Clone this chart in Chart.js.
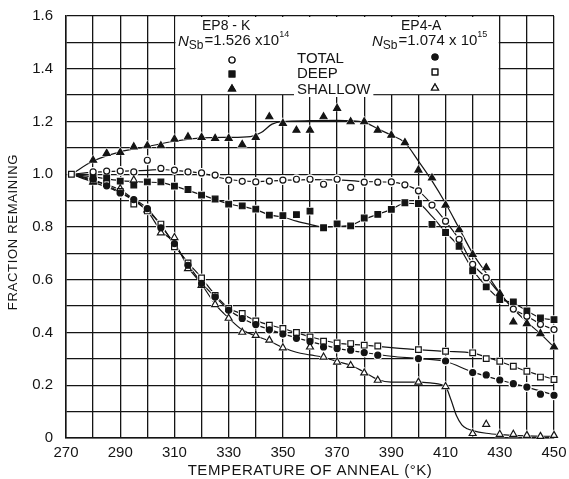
<!DOCTYPE html>
<html>
<head>
<meta charset="utf-8">
<title>Fraction remaining vs temperature of anneal</title>
<script src="https://cdn.jsdelivr.net/npm/chart.js@4.4.1/dist/chart.umd.min.js"></script>
<style>
  html, body { margin: 0; padding: 0; background: #fff; }
  #wrap { width: 569px; height: 479px; }
</style>
</head>
<body>
<div id="wrap"><canvas id="anneal-chart" width="569" height="479"></canvas></div>
<script>
// -------------------------------- Data -------------------------------------- //

const xTickLabels = [270, 290, 310, 330, 350, 370, 390, 410, 430, 450];
const yTickLabels = ['0', '0.2', '0.4', '0.6', '0.8', '1.0', '1.2', '1.4', '1.6'];

// EP8-K measured points (K, fraction remaining)
const ep8TotalT = [280, 285, 290, 295, 300, 305, 310, 315, 320, 325, 330, 335, 340, 345, 350, 355, 360, 365, 370, 375, 380, 385, 390, 395, 400, 405, 410, 415, 420, 425, 435, 440, 445, 450];
const ep8TotalV = [1.009, 1.012, 1.012, 1.009, 1.053, 1.022, 1.016, 1.009, 1.005, 0.997, 0.978, 0.973, 0.971, 0.974, 0.978, 0.981, 0.981, 0.962, 0.981, 0.95, 0.97, 0.97, 0.971, 0.96, 0.937, 0.883, 0.822, 0.753, 0.658, 0.608, 0.489, 0.462, 0.431, 0.411];

const ep8DeepT = [280, 285, 290, 295, 300, 305, 310, 315, 320, 325, 330, 335, 340, 345, 350, 355, 360, 365, 370, 375, 380, 385, 390, 395, 400, 405, 410, 415, 420, 425, 430, 435, 440, 445, 450];
const ep8DeepV = [0.99, 0.986, 0.974, 0.959, 0.971, 0.971, 0.955, 0.942, 0.921, 0.906, 0.887, 0.88, 0.868, 0.845, 0.843, 0.847, 0.86, 0.797, 0.812, 0.804, 0.834, 0.848, 0.867, 0.892, 0.889, 0.81, 0.779, 0.727, 0.634, 0.573, 0.525, 0.516, 0.482, 0.455, 0.449];

const ep8ShallowT = [280, 285, 290, 295, 300, 305, 310, 315, 320, 325, 330, 335, 340, 345, 350, 355, 360, 365, 370, 375, 380, 385, 390, 395, 400, 405, 410, 415, 420, 425, 430, 435, 440, 445, 450];
const ep8ShallowV = [1.053, 1.079, 1.083, 1.104, 1.108, 1.108, 1.133, 1.142, 1.14, 1.136, 1.136, 1.113, 1.14, 1.218, 1.193, 1.167, 1.167, 1.218, 1.25, 1.199, 1.199, 1.167, 1.148, 1.12, 1.016, 0.986, 0.883, 0.79, 0.696, 0.646, 0.548, 0.44, 0.434, 0.396, 0.345];

// EP4-A measured points
const ep4TotalT = [280, 285, 290, 295, 300, 305, 310, 315, 320, 325, 330, 335, 340, 345, 350, 355, 360, 365, 370, 375, 380, 385, 400, 410, 420, 425, 430, 435, 440, 445, 450];
const ep4TotalV = [0.981, 0.956, 0.929, 0.904, 0.87, 0.797, 0.737, 0.655, 0.586, 0.535, 0.484, 0.453, 0.43, 0.41, 0.394, 0.378, 0.366, 0.345, 0.339, 0.333, 0.324, 0.314, 0.301, 0.292, 0.248, 0.239, 0.22, 0.206, 0.193, 0.166, 0.162];

const ep4DeepT = [272, 280, 285, 290, 295, 300, 305, 310, 315, 320, 325, 330, 335, 340, 345, 350, 355, 360, 365, 370, 375, 380, 385, 400, 410, 420, 425, 430, 435, 440, 445, 450];
const ep4DeepV = [1.0, 0.975, 0.965, 0.935, 0.887, 0.861, 0.811, 0.725, 0.664, 0.607, 0.541, 0.491, 0.472, 0.444, 0.428, 0.415, 0.4, 0.383, 0.367, 0.36, 0.358, 0.352, 0.349, 0.335, 0.329, 0.323, 0.301, 0.291, 0.272, 0.253, 0.231, 0.222];

const ep4ShallowT = [280, 290, 295, 300, 305, 310, 315, 320, 325, 330, 335, 340, 345, 350, 360, 365, 370, 375, 380, 385, 400, 410, 420, 425, 430, 435, 440, 445, 450];
const ep4ShallowV = [0.97, 0.945, 0.978, 0.865, 0.778, 0.76, 0.642, 0.579, 0.506, 0.454, 0.401, 0.389, 0.371, 0.342, 0.345, 0.307, 0.288, 0.275, 0.247, 0.219, 0.212, 0.195, 0.017, 0.052, 0.014, 0.014, 0.01, 0.006, 0.01];

// hand drawn curves through the points
const ep8TotalCurveT = [272, 280, 290, 300, 305, 310, 320, 330, 340, 350, 360, 370, 380, 390, 395, 400, 405, 410, 415, 420, 425, 430, 435, 440, 445, 450];
const ep8TotalCurveV = [1.0, 1.008, 1.012, 1.015, 1.018, 1.015, 1.004, 0.98, 0.972, 0.977, 0.98, 0.979, 0.972, 0.97, 0.96, 0.937, 0.885, 0.822, 0.753, 0.66, 0.607, 0.548, 0.49, 0.462, 0.432, 0.411];

const ep8DeepCurveT = [272, 280, 290, 300, 305, 310, 320, 330, 340, 345, 350, 355, 360, 365, 370, 375, 380, 385, 390, 395, 400, 405, 410, 415, 420, 425, 430, 435, 440, 445, 450];
const ep8DeepCurveV = [1.0, 0.99, 0.976, 0.97, 0.968, 0.955, 0.922, 0.888, 0.866, 0.846, 0.838, 0.822, 0.81, 0.8, 0.802, 0.806, 0.83, 0.848, 0.867, 0.89, 0.888, 0.84, 0.78, 0.725, 0.638, 0.575, 0.527, 0.512, 0.482, 0.456, 0.448];

const ep8ShallowCurveT = [272, 280, 290, 300, 310, 320, 330, 338, 342, 346, 350, 360, 370, 380, 385, 390, 395, 400, 405, 410, 415, 420, 425, 430, 435, 440, 445, 450];
const ep8ShallowCurveV = [1.0, 1.05, 1.085, 1.105, 1.125, 1.138, 1.14, 1.143, 1.158, 1.19, 1.2, 1.203, 1.204, 1.197, 1.172, 1.148, 1.12, 1.05, 0.975, 0.89, 0.795, 0.7, 0.625, 0.55, 0.49, 0.44, 0.395, 0.345];

const ep4TotalCurveT = [272, 280, 290, 300, 305, 310, 315, 320, 325, 330, 335, 340, 350, 360, 370, 380, 390, 400, 410, 420, 430, 440, 450];
const ep4TotalCurveV = [1.0, 0.98, 0.932, 0.87, 0.805, 0.737, 0.658, 0.588, 0.535, 0.486, 0.453, 0.43, 0.395, 0.366, 0.34, 0.324, 0.31, 0.301, 0.29, 0.25, 0.22, 0.193, 0.163];

const ep4DeepCurveT = [272, 280, 290, 300, 305, 310, 315, 320, 325, 330, 335, 340, 350, 360, 370, 380, 390, 400, 410, 420, 430, 440, 450];
const ep4DeepCurveV = [1.0, 0.975, 0.94, 0.862, 0.81, 0.73, 0.665, 0.607, 0.543, 0.493, 0.47, 0.445, 0.415, 0.384, 0.36, 0.352, 0.343, 0.335, 0.329, 0.322, 0.29, 0.253, 0.222];

const ep4ShallowCurveT = [272, 280, 290, 300, 305, 310, 315, 320, 325, 330, 335, 340, 345, 350, 355, 360, 365, 370, 375, 380, 385, 390, 400, 405, 410, 412, 414, 416, 418, 420, 425, 430, 440, 450];
const ep4ShallowCurveV = [1.0, 0.97, 0.93, 0.86, 0.785, 0.74, 0.648, 0.583, 0.508, 0.455, 0.41, 0.387, 0.368, 0.343, 0.325, 0.315, 0.306, 0.29, 0.276, 0.25, 0.222, 0.212, 0.212, 0.208, 0.194, 0.145, 0.085, 0.05, 0.035, 0.028, 0.018, 0.013, 0.008, 0.006];


// -------------------------------- Helpers -------------------------------------- //

const ink = '#141414';
const font = '"Liberation Sans", Arial, sans-serif';

const toPoints = (ts, vs) => ts.map((t, i) => ({ x: t, y: vs[i] }));

// smooth line, no markers
const curve = (ts, vs) => ({
    data: toPoints(ts, vs),
    borderColor: ink,
    borderWidth: 1.2,
    pointRadius: 0,
    cubicInterpolationMode: 'monotone',
    clip: false,
    order: 3
});

// white patch behind a marker so the curve looks broken there
const halo = (ts, vs, style, r) => ({
    data: toPoints(ts, vs),
    showLine: false,
    pointStyle: style,
    pointRadius: r + 2,
    pointBackgroundColor: '#fff',
    pointBorderWidth: 0,
    clip: false,
    order: 2
});

const marks = (ts, vs, style, r, filled) => ({
    data: toPoints(ts, vs),
    showLine: false,
    pointStyle: style,
    pointRadius: r,
    pointBackgroundColor: filled ? ink : '#fff',
    pointBorderColor: ink,
    pointBorderWidth: 1.2,
    clip: false,
    order: 1
});

const series = [
    [ep8TotalT, ep8TotalV, 'circle', 3, false],
    [ep8DeepT, ep8DeepV, 'rect', 4, true],
    [ep8ShallowT, ep8ShallowV, 'triangle', 4, true],
    [ep4TotalT, ep4TotalV, 'circle', 3, true],
    [ep4DeepT, ep4DeepV, 'rect', 4, false],
    [ep4ShallowT, ep4ShallowV, 'triangle', 4, false]
];

const datasets = [
    curve(ep8TotalCurveT, ep8TotalCurveV),
    curve(ep8DeepCurveT, ep8DeepCurveV),
    curve(ep8ShallowCurveT, ep8ShallowCurveV),
    curve(ep4TotalCurveT, ep4TotalCurveV),
    curve(ep4DeepCurveT, ep4DeepCurveV),
    curve(ep4ShallowCurveT, ep4ShallowCurveV)
];
series.forEach(s => datasets.push(halo(s[0], s[1], s[2], s[3])));
series.forEach(s => datasets.push(marks(s[0], s[1], s[2], s[3], s[4])));

// draws a row of text pieces (for N_Sb = ... x 10^n)
const drawRuns = (ctx, x, runs) => {
    runs.forEach(r => {
        ctx.font = r.font;
        ctx.fillText(r.text, x, r.y);
        x += ctx.measureText(r.text).width + (r.gap || 0);
    });
};

const legendMark = (ctx, style, r, filled, x, y) => {
    ctx.fillStyle = filled ? ink : '#fff';
    Chart.helpers.drawPoint(ctx, { pointStyle: style, radius: r, borderWidth: 1.2, rotation: 0 }, x, y);
    ctx.fill();
    ctx.stroke();
};


// -------------------------------- Key + titles plugin -------------------------------------- //

const keyPlugin = {
    id: 'keyPlugin',
    beforeDatasetsDraw(chart) {
        const { ctx, scales: { x, y } } = chart;
        const left = x.getPixelForValue(310) + 1;
        const right = x.getPixelForValue(430) - 1;
        const top = y.getPixelForValue(1.6) + 1;
        const bottom = y.getPixelForValue(1.3) - 1;
        ctx.save();
        ctx.fillStyle = '#fff';
        ctx.fillRect(left, top, right - left, bottom - top);
        ctx.restore();
    },
    afterDatasetsDraw(chart) {
        const ctx = chart.ctx;
        ctx.save();
        ctx.fillStyle = ink;
        ctx.strokeStyle = ink;
        ctx.textAlign = 'left';
        ctx.textBaseline = 'alphabetic';

        // sample headings
        ctx.font = '14px ' + font;
        ctx.fillText('EP8 - K', 202, 30);
        ctx.fillText('EP4-A', 401, 30);

        drawRuns(ctx, 178, [
            { text: 'N', font: 'italic 15px ' + font, y: 46 },
            { text: 'Sb', font: '12px ' + font, y: 49, gap: 1 },
            { text: '=1.526 x10', font: '15px ' + font, y: 45 },
            { text: '14', font: '9px ' + font, y: 37 }
        ]);
        drawRuns(ctx, 372, [
            { text: 'N', font: 'italic 15px ' + font, y: 46 },
            { text: 'Sb', font: '12px ' + font, y: 49, gap: 1 },
            { text: '=1.074 x 10', font: '15px ' + font, y: 45 },
            { text: '15', font: '9px ' + font, y: 37 }
        ]);

        // row labels
        ctx.font = '15px ' + font;
        ctx.fillText('TOTAL', 297, 63);
        ctx.fillText('DEEP', 297, 78);
        const w = ctx.measureText('SHALLOW').width;
        ctx.fillStyle = '#fff';
        ctx.fillRect(294, 82, w + 6, 15);
        ctx.fillStyle = ink;
        ctx.fillText('SHALLOW', 297, 94);

        // key markers
        ctx.lineWidth = 1.2;
        legendMark(ctx, 'circle', 3, false, 232, 60);
        legendMark(ctx, 'rect', 4, true, 232, 74);
        legendMark(ctx, 'triangle', 4, true, 232, 89);
        legendMark(ctx, 'circle', 3, true, 435, 57);
        legendMark(ctx, 'rect', 4, false, 435, 72);
        legendMark(ctx, 'triangle', 4, false, 435, 88);

        ctx.restore();
    },
    afterDraw(chart) {
        const ctx = chart.ctx;
        ctx.save();
        ctx.fillStyle = ink;
        ctx.textAlign = 'center';
        ctx.textBaseline = 'middle';

        ctx.font = '15px ' + font;
        ctx.letterSpacing = '0.5px';
        ctx.fillText('TEMPERATURE OF ANNEAL (°K)', 310, 471);

        ctx.translate(13, 232);
        ctx.rotate(-Math.PI / 2);
        ctx.font = '13px ' + font;
        ctx.letterSpacing = '0.7px';
        ctx.fillText('FRACTION REMAINING', 0, 0);
        ctx.restore();
    }
};


// -------------------------------- Chart -------------------------------------- //

const gridStyle = { color: ink, lineWidth: 1.3, drawTicks: false };
const borderStyle = { color: ink, width: 1.5 };

const annealCanvas = document.getElementById('anneal-chart');

let annealChart = new Chart(annealCanvas, {
    type: 'line',
    data: { datasets: datasets },
    options: {
        responsive: false,
        animation: false,
        events: [],
        layout: { padding: { top: 16, right: 15, left: 0, bottom: 0 } },
        scales: {
            x: {
                type: 'linear',
                min: 270,
                max: 450,
                // fixed box so the plot area lands where the original's does
                afterFit: s => {
                    s.height = 41;
                    s.paddingLeft = 0;
                    s.paddingRight = 0;
                },
                grid: gridStyle,
                border: borderStyle,
                ticks: {
                    stepSize: 10,
                    autoSkip: false,
                    maxRotation: 0,
                    padding: 6,
                    color: ink,
                    font: { family: font, size: 15 },
                    callback: v => xTickLabels.includes(v) ? String(v) : ''
                }
            },
            y: {
                min: 0,
                max: 1.6,
                afterFit: s => {
                    s.width = 66;
                    s.paddingTop = 0;
                    s.paddingBottom = 0;
                },
                grid: gridStyle,
                border: borderStyle,
                ticks: {
                    stepSize: 0.1,
                    autoSkip: false,
                    padding: 13,
                    color: ink,
                    font: { family: font, size: 15 },
                    callback: v => {
                        const i = Math.round(v * 10);
                        return i % 2 === 0 ? yTickLabels[i / 2] : '';
                    }
                }
            }
        },
        plugins: {
            legend: { display: false },
            tooltip: { enabled: false }
        }
    },
    plugins: [keyPlugin]
});
</script>
</body>
</html>
